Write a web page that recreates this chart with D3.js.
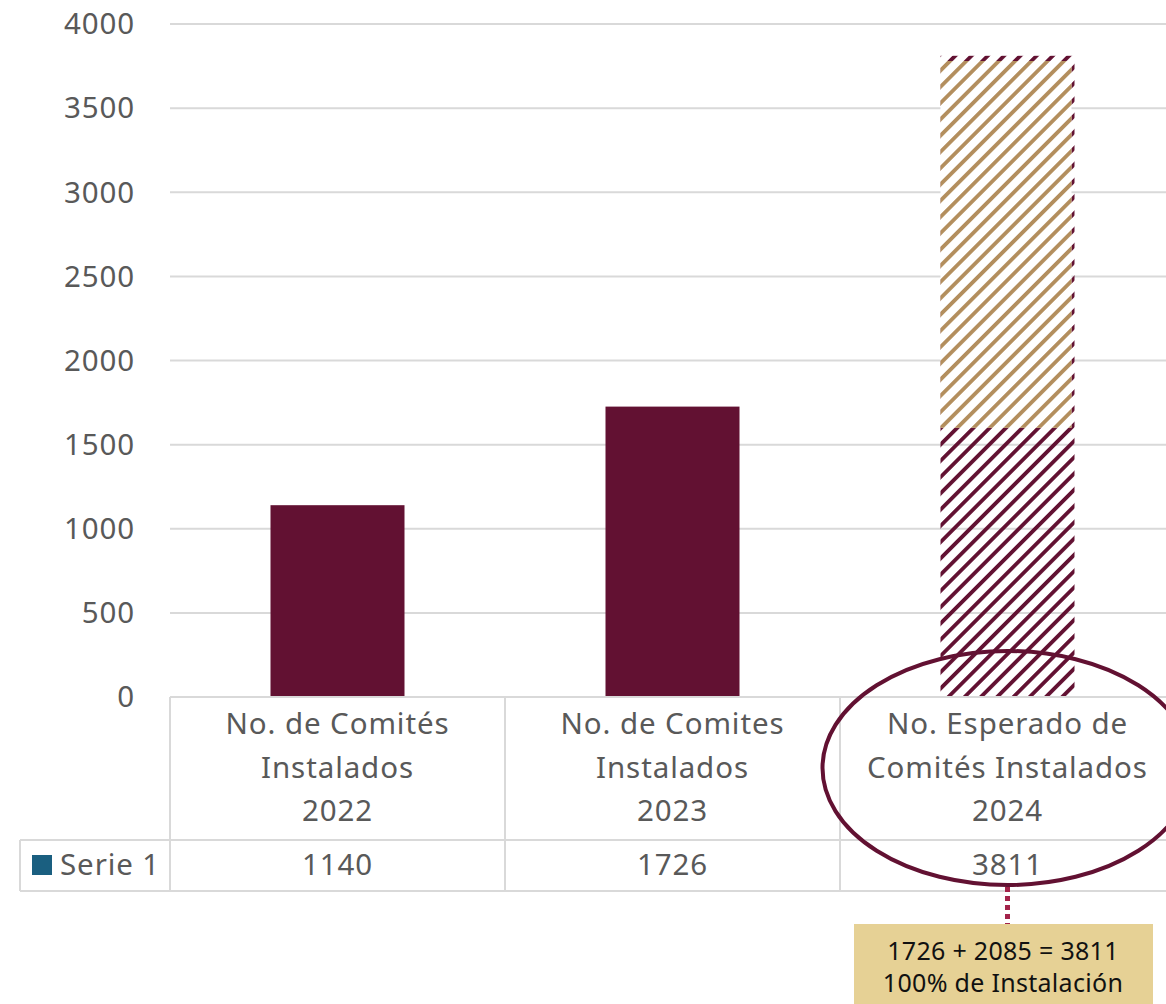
<!DOCTYPE html>
<html><head><meta charset="utf-8">
<script src="https://cdn.jsdelivr.net/npm/d3@7"></script>
<style>body{margin:0;background:#fff}svg{display:block;font-family:"Noto Sans","Open Sans",sans-serif}</style>
</head><body>
<svg id="c" width="1166" height="1004"></svg>
<script>
const categories = [["No. de Comités","Instalados","2022"],["No. de Comites","Instalados","2023"],["No. Esperado de","Comités Instalados","2024"]];
const values = [1140, 1726, 3811];
const projectedSplit = [1600, 3780]; // gold hatched band on the 2024 bar
const yTicks = [0,500,1000,1500,2000,2500,3000,3500,4000];
const seriesName = "Serie 1";
const noteLines = ["1726 + 2085 = 3811","100% de Instalación"];

const svg = d3.select("#c");
const maroon = "#621132", gold = "#b38e5d", grid = "#d9d9d9", txt = "#595959";
const FS = 29.5, LS = "0.9px";
const x = d3.scaleBand().domain(d3.range(3)).range([170,1175]).paddingInner(0).paddingOuter(0);
const y = d3.scaleLinear().domain([0,4000]).range([697,24]);

const defs = svg.append("defs");
function hatch(id,color){
  const p = defs.append("pattern").attr("id",id).attr("patternUnits","userSpaceOnUse")
    .attr("width",11.5).attr("height",11.5).attr("patternTransform","rotate(45)");
  p.append("rect").attr("x",0).attr("y",0).attr("width",3.8).attr("height",11.5).attr("fill",color);
}
hatch("hm",maroon); hatch("hg",gold);

// gridlines
svg.append("g").selectAll("line").data(yTicks).join("line")
  .attr("x1",170).attr("x2",1166).attr("y1",d=>y(d)).attr("y2",d=>y(d))
  .attr("stroke",grid).attr("stroke-width",2);
// y labels
svg.append("g").selectAll("text").data(yTicks).join("text")
  .attr("x",135).attr("y",d=>y(d)).attr("dy","0.35em").attr("text-anchor","end")
  .attr("font-size",FS).attr("letter-spacing",LS).attr("fill",txt).text(d=>d);

// bars
const bw = x.bandwidth()*0.4;
svg.append("g").selectAll("rect").data(values).join("rect")
  .attr("x",(d,i)=>x(i)+(x.bandwidth()-bw)/2).attr("width",bw)
  .attr("y",d=>y(d)).attr("height",d=>y(0)-y(d))
  .attr("fill",(d,i)=>i===2?"url(#hm)":maroon);
svg.append("rect").attr("x",x(2)+(x.bandwidth()-bw)/2).attr("width",bw-3)
  .attr("y",y(projectedSplit[1])).attr("height",y(projectedSplit[0])-y(projectedSplit[1]))
  .attr("fill","#fff");
svg.append("rect").attr("x",x(2)+(x.bandwidth()-bw)/2).attr("width",bw-3)
  .attr("y",y(projectedSplit[1])).attr("height",y(projectedSplit[0])-y(projectedSplit[1]))
  .attr("fill","url(#hg)");

// data table
const tg = svg.append("g").attr("stroke",grid).attr("stroke-width",2);
tg.append("line").attr("x1",170).attr("x2",1166).attr("y1",697).attr("y2",697);
tg.append("line").attr("x1",20).attr("x2",1166).attr("y1",840).attr("y2",840);
tg.append("line").attr("x1",20).attr("x2",1166).attr("y1",891).attr("y2",891);
tg.append("line").attr("x1",20).attr("x2",20).attr("y1",840).attr("y2",891);
[0,1,2].forEach(i=>tg.append("line").attr("x1",x(i)).attr("x2",x(i)).attr("y1",697).attr("y2",891));

categories.forEach((lines,i)=>{
  lines.forEach((l,j)=>svg.append("text").attr("x",x(i)+x.bandwidth()/2).attr("y",724+j*43.5)
    .attr("dy","0.35em").attr("text-anchor","middle").attr("font-size",FS).attr("letter-spacing",LS).attr("fill",txt).text(l));
  svg.append("text").attr("x",x(i)+x.bandwidth()/2).attr("y",865).attr("dy","0.35em")
    .attr("text-anchor","middle").attr("font-size",FS).attr("letter-spacing",LS).attr("fill",txt).text(values[i]);
});
svg.append("rect").attr("x",32).attr("y",855).attr("width",20).attr("height",20).attr("fill","#1a5f80");
svg.append("text").attr("x",60).attr("y",865).attr("dy","0.35em").attr("font-size",FS).attr("letter-spacing",LS).attr("fill",txt).text(seriesName);

// highlight ellipse
const cx = x(2)+x.bandwidth()/2;
svg.append("ellipse").attr("cx",cx).attr("cy",768).attr("rx",185).attr("ry",117)
  .attr("fill","none").attr("stroke",maroon).attr("stroke-width",4);
svg.append("line").attr("x1",cx).attr("x2",cx).attr("y1",887).attr("y2",924)
  .attr("stroke","#a3234a").attr("stroke-width",5).attr("stroke-dasharray","5,4");
// note box
svg.append("rect").attr("x",854).attr("y",924).attr("width",299).attr("height",82).attr("fill","#e6d195");
noteLines.forEach((l,j)=>svg.append("text").attr("x",1003).attr("y",951+j*32).attr("dy","0.35em")
  .attr("text-anchor","middle").attr("font-size",25).attr("letter-spacing","0.3px").attr("fill","#111").text(l));
</script>
</body></html>
